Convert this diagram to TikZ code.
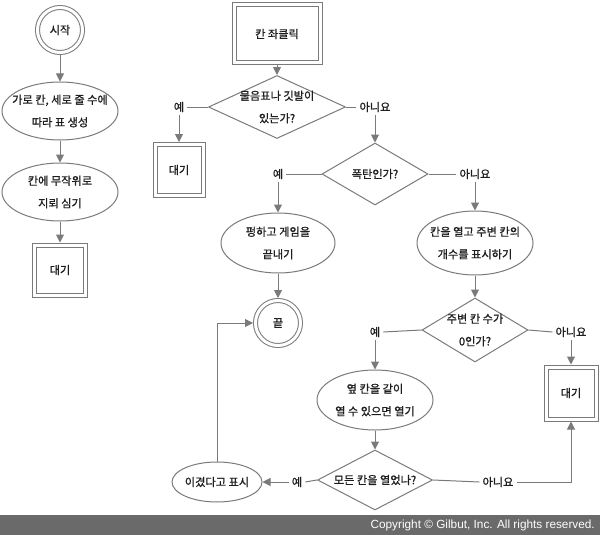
\documentclass[tikz,border=0pt]{standalone}
\usepackage{fontspec}
\newfontfamily\krfont[FakeBold=1.0]{Noto Sans CJK KR}
\newfontfamily\cpfont{Liberation Sans}
\usetikzlibrary{shapes.geometric,arrows.meta}
\definecolor{edgegray}{HTML}{7A7A7A}
\definecolor{bargray}{HTML}{6A6A6A}
\definecolor{inkgray}{HTML}{1E1E1E}
\begin{document}
\begin{tikzpicture}[x=1pt,y=-1pt,
  every node/.style={inner sep=0pt},
  shapeline/.style={draw=edgegray, line width=1pt},
  dbl/.style={shapeline, double=white, double distance=3pt, outer sep=2.5pt},
  terminal/.style={dbl, circle, minimum size=45pt},
  waitbox/.style={dbl, rectangle},
  process/.style={shapeline, ellipse},
  decision/.style={shapeline, diamond},
  txt/.style={font=\krfont\fontsize{11.2}{22.5}\selectfont, align=center, text=inkgray},
  ans/.style={txt, inner sep=3pt},
  flow/.style={draw=edgegray, line width=1pt, -{Triangle[length=8pt,width=8pt]}},
  link/.style={draw=edgegray, line width=1pt},
]
\useasboundingbox (0,0) rectangle (600,535);

% ---- setup column ----
\node[terminal, label={[txt]center:시작}] (start) at (60,30) {};
\node[process, minimum width=116pt, minimum height=58pt,
      label={[txt]center:{가로 칸, 세로 줄 수에\\따라 표 생성}}] (grid) at (60,111) {};
\node[process, minimum width=116pt, minimum height=58pt,
      label={[txt]center:{칸에 무작위로\\지뢰 심기}}] (mines) at (60,192) {};
\node[waitbox, minimum width=51pt, minimum height=50pt,
      label={[txt]center:대기}] (waitA) at (60,270) {};

\draw[flow] (start) -- (grid);
\draw[flow] (grid) -- (mines);
\draw[flow] (mines) -- (waitA);

% ---- click handling ----
\node[waitbox, minimum width=86pt, minimum height=58pt,
      label={[txt]center:칸 좌클릭}] (click) at (277,34) {};
\node[decision, minimum width=137pt, minimum height=63pt,
      label={[txt]center:{물음표나 깃발이\\있는가?}}] (flag) at (277,107) {};
\node[ans] (flagyes) at (179,107) {예};
\node[ans] (flagno) at (375,107) {아니요};
\node[waitbox, minimum width=48pt, minimum height=51pt,
      label={[txt]center:대기}] (waitB) at (179,170) {};

\draw[flow] (click) -- (flag);
\draw[link] (flag.west) -- (flagyes.east);
\draw[flow] (flagyes.south) -- (waitB.north);
\draw[link] (flag.east) -- (flagno.west);

\node[decision, minimum width=106pt, minimum height=62pt,
      label={[txt]center:폭탄인가?}] (bomb) at (375,174) {};
\draw[flow] (flagno.south) -- (bomb.north);
\node[ans] (bombyes) at (278,174) {예};
\node[ans] (bombno) at (475,174) {아니요};
\draw[link] (bomb.west) -- (bombyes.east);
\draw[link] (bomb.east) -- (bombno.west);

\node[process, minimum width=114pt, minimum height=60pt,
      label={[txt]center:{펑하고 게임을\\끝내기}}] (boom) at (278,243) {};
\node[terminal, label={[txt]center:끝}] (finish) at (278,323) {};
\draw[flow] (bombyes.south) -- (boom.north);
\draw[flow] (boom) -- (finish);

\node[process, minimum width=116pt, minimum height=64pt,
      label={[txt]center:{칸을 열고 주변 칸의\\개수를 표시하기}}] (open) at (475,243) {};
\draw[flow] (bombno.south) -- (open.north);

\node[decision, minimum width=106pt, minimum height=64pt,
      label={[txt]center:{주변 칸 수가\\0인가?}}] (zero) at (475,330) {};
\draw[flow] (open) -- (zero);
\node[ans] (zeroyes) at (375,332) {예};
\node[ans] (zerono) at (571,332) {아니요};
\draw[link] (zero.west) -- (zeroyes.east);
\draw[link] (zero.east) -- (zerono.west);

\node[waitbox, minimum width=50pt, minimum height=52pt,
      label={[txt]center:대기}] (waitC) at (571,393) {};
\draw[flow] (zerono.south) -- (waitC.north);

\node[process, minimum width=116pt, minimum height=60pt,
      label={[txt]center:{옆 칸을 같이\\열 수 있으면 열기}}] (spread) at (375,400) {};
\draw[flow] (zeroyes.south) -- (spread.north);

\node[decision, minimum width=115pt, minimum height=60pt,
      label={[txt]center:모든 칸을 열었나?}] (all) at (375,480) {};
\draw[flow] (spread) -- (all);
\node[ans] (allyes) at (297,482) {예};
\node[ans] (allno) at (498,482) {아니요};
\node[process, minimum width=90pt, minimum height=40pt,
      label={[txt]center:이겼다고 표시}] (win) at (217,482) {};
\draw[link] (all.west) -- (allyes.east);
\draw[flow] (allyes.west) -- (win.east);
\draw[link] (all.east) -- (allno.west);
\draw[flow] (allno.east) -| (waitC.south);
\draw[flow] (win.north) |- (finish.west);

% ---- footer ----
\fill[bargray] (0,515) rectangle (600,535);
\node[anchor=east, text=white, font=\cpfont\fontsize{11.8}{13}\selectfont]
  (copyright) at (595,525.5) {Copyright © Gilbut, Inc. All rights reserved.};
\end{tikzpicture}
\end{document}
